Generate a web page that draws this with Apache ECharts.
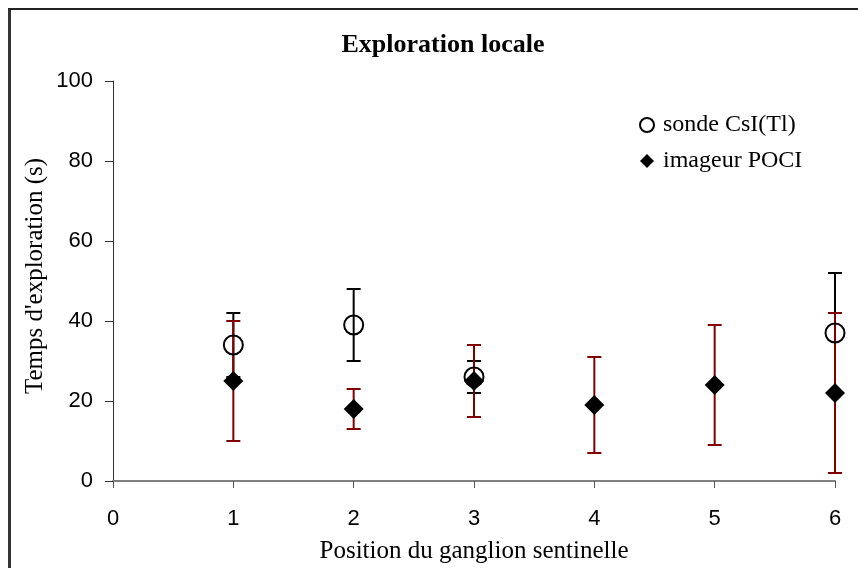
<!DOCTYPE html>
<html>
<head>
<meta charset="utf-8">
<script src="https://cdn.jsdelivr.net/npm/echarts@6/dist/echarts.min.js"></script>
<style>
  html, body { margin: 0; padding: 0; background: #fff; }
  #chart { width: 858px; height: 568px; }
</style>
</head>
<body>
<div id="chart"></div>
<script>
// Sentinel node positions along the x axis
const positions = [1, 2, 3, 4, 5, 6];
// Probe (CsI(Tl)) exploration time in seconds, mean and half-width of the error bar
const sondeMean = [34, 39, 26, null, null, 37];
const sondeErr  = [8, 9, 4, null, null, 15];
// POCI imager exploration time in seconds, mean and half-width of the error bar
const imageurMean = [25, 18, 25, 19, 24, 22];
const imageurErr  = [15, 5, 9, 12, 15, 20];
// Axis ticks
const xTicks = [0, 1, 2, 3, 4, 5, 6];
const yTicks = [0, 20, 40, 60, 80, 100];

const serif = '"Liberation Serif", "Times New Roman", serif';
const sans = '"Liberation Sans", Arial, sans-serif';
const darkRed = '#800000';

function points(mean) {
  return positions.map((p, i) => mean[i] == null ? null : [p, mean[i]]).filter(Boolean);
}
function ranges(mean, err) {
  return positions.map((p, i) => mean[i] == null ? null : [p, mean[i] - err[i], mean[i] + err[i]]).filter(Boolean);
}

function errorBar(color) {
  return function (params, api) {
    const x = api.value(0);
    const top = api.coord([x, api.value(2)]);
    const bot = api.coord([x, api.value(1)]);
    const half = 7;
    const style = { stroke: color, lineWidth: 2 };
    return {
      type: 'group',
      children: [
        { type: 'line', shape: { x1: top[0], y1: top[1], x2: bot[0], y2: bot[1] }, style },
        { type: 'line', shape: { x1: top[0] - half, y1: top[1], x2: top[0] + half, y2: top[1] }, style },
        { type: 'line', shape: { x1: bot[0] - half, y1: bot[1], x2: bot[0] + half, y2: bot[1] }, style }
      ]
    };
  };
}

const chart = echarts.init(document.getElementById('chart'), null, { renderer: 'canvas' });

chart.setOption({
  backgroundColor: '#fff',
  animation: false,
  grid: { left: 113, right: 23, top: 81, bottom: 87 },
  xAxis: {
    type: 'value',
    min: xTicks[0],
    max: xTicks[xTicks.length - 1],
    interval: 1,
    splitLine: { show: false },
    axisLine: { onZero: false, lineStyle: { color: '#808080', width: 2 } },
    axisTick: { show: true, inside: false, length: 7, lineStyle: { color: '#555', width: 1 } },
    axisLabel: { color: '#000', fontFamily: sans, fontSize: 22, margin: 27 }
  },
  yAxis: {
    type: 'value',
    min: yTicks[0],
    max: yTicks[yTicks.length - 1],
    interval: 20,
    splitLine: { show: false },
    axisLine: { show: true, lineStyle: { color: '#333', width: 1 } },
    axisTick: { show: true, inside: false, length: 8, lineStyle: { color: '#333', width: 1 } },
    axisLabel: { color: '#000', fontFamily: sans, fontSize: 22, margin: 20 }
  },
  legend: {
    orient: 'vertical',
    left: 634,
    top: 108,
    itemWidth: 14,
    itemHeight: 14,
    itemGap: 12,
    data: ['sonde CsI(Tl)', 'imageur POCI'],
    textStyle: { fontFamily: serif, fontSize: 24, color: '#000', padding: [0, 0, 0, 4] }
  },
  graphic: [
    { type: 'line', shape: { x1: 9.5, y1: 9, x2: 9.5, y2: 600 }, style: { stroke: '#333', lineWidth: 3 } },
    { type: 'line', shape: { x1: 8, y1: 9, x2: 900, y2: 9 }, style: { stroke: '#222', lineWidth: 2 } },
    {
      type: 'text', x: 443, y: 45,
      style: { text: 'Exploration locale', fontFamily: serif, fontWeight: 'bold', fontSize: 26, fill: '#000', textAlign: 'center', textVerticalAlign: 'middle' }
    },
    {
      type: 'text', x: 474, y: 551,
      style: { text: 'Position du ganglion sentinelle', fontFamily: serif, fontSize: 25, fill: '#000', textAlign: 'center', textVerticalAlign: 'middle' }
    },
    {
      type: 'text', x: 35, y: 276, rotation: Math.PI / 2,
      style: { text: "Temps d'exploration (s)", fontFamily: serif, fontSize: 25, fill: '#000', textAlign: 'center', textVerticalAlign: 'middle' }
    }
  ],
  series: [
    {
      type: 'custom',
      name: 'sonde err',
      renderItem: errorBar('#000'),
      data: ranges(sondeMean, sondeErr),
      encode: { x: 0, y: [1, 2] },
      z: 2
    },
    {
      type: 'custom',
      name: 'imageur err',
      renderItem: errorBar(darkRed),
      data: ranges(imageurMean, imageurErr),
      encode: { x: 0, y: [1, 2] },
      z: 3
    },
    {
      type: 'scatter',
      name: 'sonde CsI(Tl)',
      symbol: 'circle',
      symbolSize: 19,
      itemStyle: { color: 'rgba(0,0,0,0)', borderColor: '#000', borderWidth: 2, opacity: 1 },
      emphasis: { disabled: true },
      data: points(sondeMean),
      z: 4
    },
    {
      type: 'scatter',
      name: 'imageur POCI',
      symbol: 'diamond',
      symbolSize: [20, 20],
      itemStyle: { color: '#000', opacity: 1 },
      emphasis: { disabled: true },
      data: points(imageurMean),
      z: 5
    }
  ]
});
</script>
</body>
</html>
